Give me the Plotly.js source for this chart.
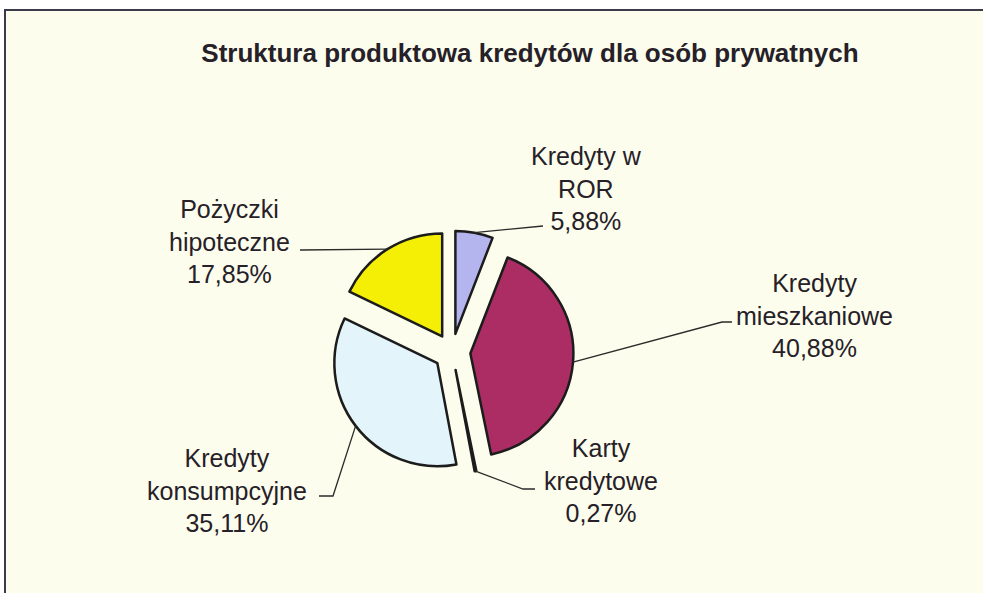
<!DOCTYPE html>
<html><head><meta charset="utf-8">
<script src="https://cdn.plot.ly/plotly-3.0.1.min.js"></script>
<style>html,body{margin:0;padding:0;background:#fff;} #chart{width:983px;height:593px;}</style>
</head><body><div id="chart"></div>
<script>
// ---- data ----
const categories = ['Kredyty w ROR', 'Kredyty mieszkaniowe', 'Karty kredytowe', 'Kredyty konsumpcyjne', 'Pożyczki hipoteczne'];
const labelLines = ['Kredyty w<br>ROR', 'Kredyty<br>mieszkaniowe', 'Karty<br>kredytowe', 'Kredyty<br>konsumpcyjne', 'Pożyczki<br>hipoteczne'];
const shares = [5.88, 40.88, 0.27, 35.11, 17.85];
const titleText = 'Struktura produktowa kredytów dla osób prywatnych';

// ---- styles / layout ----
const colors = ['#b4b4ee', '#ab2d64', '#eeeeee', '#e3f5fa', '#f5ee05'];
const W = 983, H = 593;
const CX = 452, CY = 352, R = 103, PULL = 0.179;
// label layout: text centre and leader-line waypoints (pixels)
const labelPos = [
  {tx: 586, ty: 189, path: [[543, 226]]},
  {tx: 814, ty: 315, path: [[722, 322], [732, 322]]},
  {tx: 601, ty: 480, path: [[523, 489], [535, 489]]},
  {tx: 227, ty: 490, path: [[333, 496], [319, 496]]},
  {tx: 229, ty: 242, path: [[300, 250]]}
];
const textColor = '#262028';
const fontFam = 'Liberation Sans, Arial, sans-serif';

const px = x => x / W;
const py = y => 1 - y / H;

const S = 2 * R * (1 + PULL);
const total = shares.reduce((a, b) => a + b, 0);

const shapes = [{
  type: 'rect', xref: 'paper', yref: 'paper', layer: 'below',
  x0: px(5), x1: 1.02, y0: -0.02, y1: py(10),
  fillcolor: '#fcfdec', line: {color: '#3a3a4c', width: 2}
}];
const annotations = [];

let cum = 0;
shares.forEach((v, i) => {
  const mid = (cum + v / 2) / total * 2 * Math.PI;
  cum += v;
  const ex = CX + R * (1 + PULL) * Math.sin(mid);
  const ey = CY - R * (1 + PULL) * Math.cos(mid);
  const lp = labelPos[i];
  let d = 'M ' + px(ex) + ' ' + py(ey);
  lp.path.forEach(p => { d += ' L ' + px(p[0]) + ' ' + py(p[1]); });
  shapes.push({type: 'path', xref: 'paper', yref: 'paper', path: d, line: {color: '#2a2a2a', width: 1.3}});
  annotations.push({
    xref: 'paper', yref: 'paper', x: px(lp.tx), y: py(lp.ty),
    xanchor: 'center', yanchor: 'middle', showarrow: false, align: 'center',
    text: labelLines[i] + '<br>' + v.toFixed(2).replace('.', ',') + '%',
    font: {family: fontFam, size: 25, color: textColor}
  });
});

const trace = {
  type: 'pie',
  labels: categories,
  values: shares,
  sort: false,
  direction: 'clockwise',
  rotation: 0,
  pull: shares.map(() => PULL),
  textinfo: 'none',
  hoverinfo: 'label+percent',
  marker: {colors: colors, line: {color: '#1c1c1c', width: 2.5}},
  domain: {x: [px(CX - S / 2), px(CX + S / 2)], y: [py(CY + S / 2), py(CY - S / 2)]},
  showlegend: false
};

const layout = {
  width: W, height: H,
  margin: {l: 0, r: 0, t: 0, b: 0, pad: 0},
  paper_bgcolor: '#ffffff',
  showlegend: false,
  title: {
    text: '<b>' + titleText + '</b>', x: px(530), y: py(53), xref: 'paper', yref: 'paper',
    xanchor: 'center', yanchor: 'middle',
    font: {family: fontFam, size: 26, color: textColor}
  },
  shapes: shapes,
  annotations: annotations
};

Plotly.newPlot('chart', [trace], layout, {displayModeBar: false, staticPlot: true});
</script>
</body></html>
